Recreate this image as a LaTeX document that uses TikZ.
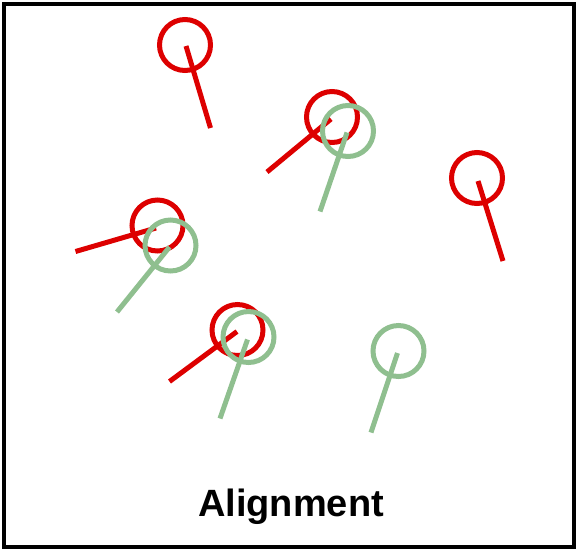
\documentclass[tikz,border=0pt]{standalone}
\usepackage{fontspec}
\setmainfont{Liberation Sans}
\definecolor{pinred}{RGB}{221,0,0}
\definecolor{pingreen}{RGB}{143,191,143}
\tikzset{
  ring/.style={circle, draw, line width=5pt, minimum size=51pt, inner sep=0pt},
  redring/.style={ring, draw=pinred},
  greenring/.style={ring, draw=pingreen},
  redstick/.style={draw=pinred, line width=5pt},
  greenstick/.style={draw=pingreen, line width=5pt}
}
\begin{document}
\begin{tikzpicture}[x=1pt,y=-1pt]
		\useasboundingbox (0,0) rectangle (577,550);
		\draw[line width=3.5pt] (4,4) rectangle (574,547);

		\node[redring] (r1) at (185,45) {};
		\coordinate (r1e) at (210.5,128);
		\draw[redstick] (186,46) -- (r1e);

		\node[redring] (r2) at (332,117) {};
		\coordinate (r2e) at (267,172);
		\draw[redstick] (331,119) -- (r2e);

		\node[redring] (r3) at (477,178) {};
		\coordinate (r3e) at (503,261);
		\draw[redstick] (478,181) -- (r3e);

		\node[redring] (r4) at (157.5,225.5) {};
		\coordinate (r4e) at (75.5,251.5);
		\draw[redstick] (156,228) -- (r4e);

		\node[redring] (r5) at (237.5,330) {};
		\coordinate (r5e) at (169.5,381.5);
		\draw[redstick] (237,331.5) -- (r5e);

		\node[greenring] (g1) at (348,131) {};
		\coordinate (g1e) at (320,211.5);
		\draw[greenstick] (347,132.5) -- (g1e);

		\node[greenring] (g2) at (170.5,245.5) {};
		\coordinate (g2e) at (117,312);
		\draw[greenstick] (169.5,247) -- (g2e);

		\node[greenring] (g3) at (248.5,337) {};
		\coordinate (g3e) at (220,418.5);
		\draw[greenstick] (247.5,339.5) -- (g3e);

		\node[greenring] (g4) at (398.5,351) {};
		\coordinate (g4e) at (371,432.5);
		\draw[greenstick] (397.5,353) -- (g4e);

		\node[font=\bfseries\fontsize{38}{42}\selectfont] (label) at (291,507) {Alignment};
	\end{tikzpicture}
\end{document}
